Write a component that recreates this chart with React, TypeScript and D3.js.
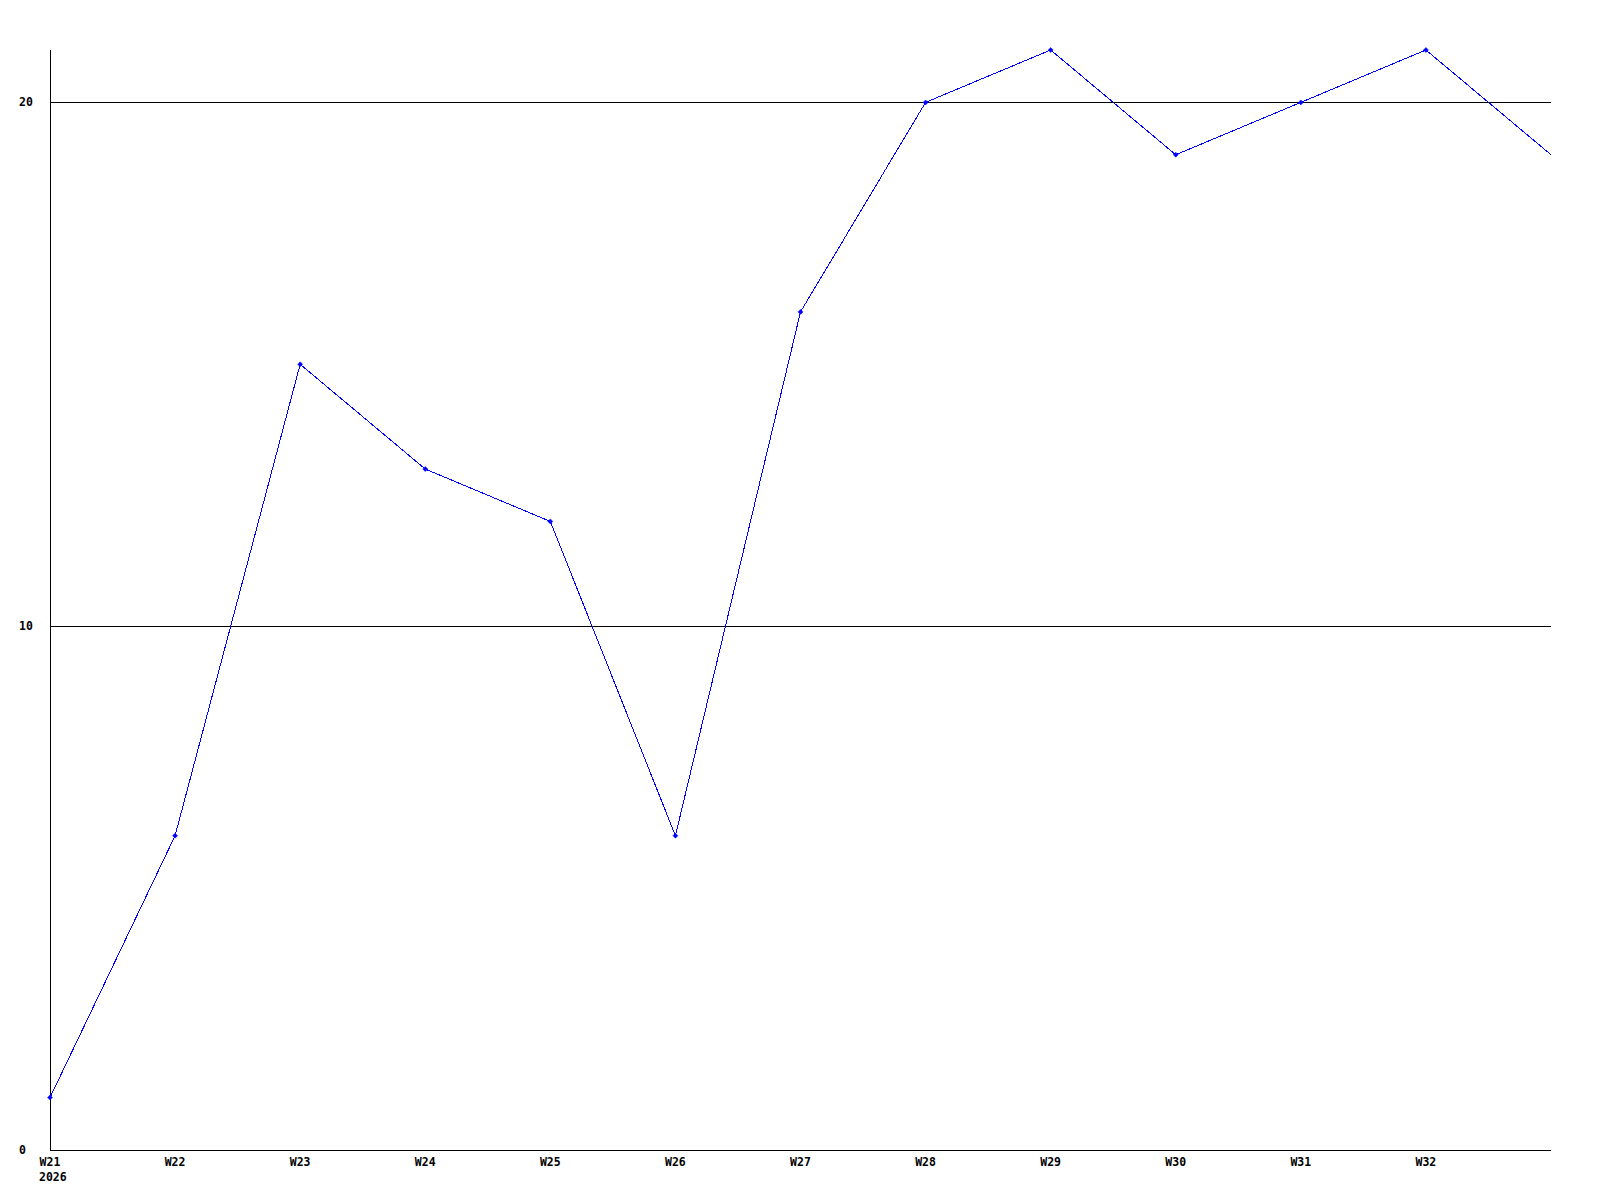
import React from "react";
import * as d3 from "d3";

// weekly counts
const weeks = ["W21", "W22", "W23", "W24", "W25", "W26", "W27", "W28", "W29", "W30", "W31", "W32", "W33"];
const values = [1, 6, 15, 13, 12, 6, 16, 20, 21, 19, 20, 21, 19];
const tickWeeks = weeks.slice(0, 12);
const yTicks = [0, 10, 20];
const yearLabel = "2026";

const width = 1600;
const height = 1200;
const margin = { top: 50, right: 49, bottom: 50, left: 50 };

const font = "'DejaVu Sans Mono', 'Liberation Mono', monospace";

const App: React.FC = () => {
    const innerW = width - margin.left - margin.right;
    const innerH = height - margin.top - margin.bottom;

    const x = d3.scaleLinear().domain([0, weeks.length - 1]).range([0, innerW]);
    const y = d3.scaleLinear().domain([0, 21]).range([innerH, 0]);

    const line = d3
        .line<number>()
        .x((_, i) => x(i))
        .y(d => y(d));

    return (
        <svg
            width={width}
            height={height}
            style={{ position: "absolute", left: 0, top: 0, background: "#fff" }}
        >
            <g transform={`translate(${margin.left},${margin.top})`}>
                {/* gridlines */}
                {yTicks.filter(t => t > 0).map(t => (
                    <line
                        key={t}
                        x1={0}
                        x2={innerW}
                        y1={Math.round(y(t)) + 0.5}
                        y2={Math.round(y(t)) + 0.5}
                        stroke="#000"
                        strokeWidth={1}
                        shapeRendering="crispEdges"
                    />
                ))}
                {/* axes */}
                <line x1={0.5} x2={0.5} y1={0} y2={innerH} stroke="#000" shapeRendering="crispEdges" />
                <line x1={0} x2={innerW} y1={innerH + 0.5} y2={innerH + 0.5} stroke="#000" shapeRendering="crispEdges" />

                {/* y labels are left-aligned in a fixed column */}
                {yTicks.map(t => (
                    <text
                        key={t}
                        x={-31}
                        y={y(t) + 4}
                        textAnchor="start"
                        fontFamily={font}
                        fontWeight="bold"
                        fontSize={11.5}
                        fill="#000"
                    >
                        {t}
                    </text>
                ))}

                {tickWeeks.map((w, i) => (
                    <text
                        key={w}
                        x={x(i)}
                        y={innerH + 16}
                        textAnchor="middle"
                        fontFamily={font}
                        fontWeight="bold"
                        fontSize={11.5}
                        fill="#000"
                    >
                        {w}
                    </text>
                ))}
                <text
                    x={x(0) - 11}
                    y={innerH + 31}
                    fontFamily={font}
                    fontWeight="bold"
                    fontSize={11.5}
                    fill="#000"
                >
                    {yearLabel}
                </text>

                {/* series */}
                <path
                    d={line(values) ?? ""}
                    fill="none"
                    stroke="#0000ff"
                    strokeWidth={1}
                    shapeRendering="optimizeSpeed"
                />
                {values.slice(0, 12).map((v, i) => (
                    <path
                        key={i}
                        d={`M${x(i)},${y(v) - 2.5}L${x(i) + 2.5},${y(v)}L${x(i)},${y(v) + 2.5}L${x(i) - 2.5},${y(v)}Z`}
                        fill="#0000ff"
                        stroke="#0000ff"
                        strokeWidth={0.5}
                    />
                ))}
            </g>
        </svg>
    );
};

export default App;
